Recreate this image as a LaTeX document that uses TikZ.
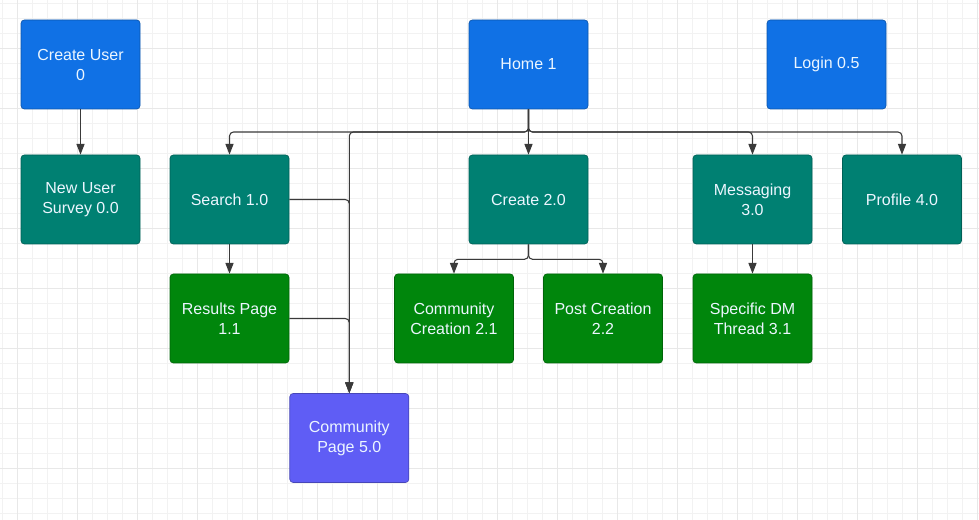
\documentclass[tikz,border=0pt]{standalone}
\usepackage{fontspec}
\setmainfont{Liberation Sans}
\usepackage{tikz}
\usetikzlibrary{positioning,arrows.meta,calc}
\usepackage{xcolor}

\definecolor{pageblue}{RGB}{16,113,229}
\definecolor{pageteal}{RGB}{0,128,114}
\definecolor{pagegreen}{RGB}{0,134,12}
\definecolor{pagepurple}{RGB}{95,93,245}
\definecolor{pagetext}{RGB}{236,246,255}
\definecolor{wire}{RGB}{58,58,58}

\begin{document}
\begin{tikzpicture}[
    x=0.75pt, y=-0.75pt,
    screen/.style={
        rectangle,
        rounded corners=2.5pt,
        draw=#1!75!black,
        line width=0.5pt,
        fill=#1,
        minimum width=89.25pt,
        minimum height=66.75pt,
        align=center,
        text=pagetext,
        font=\fontsize{12pt}{15pt}\selectfont
    },
    topbox/.style={screen=pageblue},
    sectionbox/.style={screen=pageteal},
    subbox/.style={screen=pagegreen},
    communitybox/.style={screen=pagepurple},
    link/.style={draw=wire, line width=0.8pt, rounded corners=3pt},
    gridminor/.style={draw=black!5, line width=0.6pt},
    gridmajor/.style={draw=black!9, line width=0.6pt},
    >={Triangle[length=8pt,width=6pt]}
]
\useasboundingbox (0,0) rectangle (979,520);
\fill[white] (0,0) rectangle (979,520);

% background grid
\foreach \x in {2.3,17.3,...,977.3}
    \draw[gridminor] (\x,0) -- (\x,520);
\foreach \y in {3.3,18.3,...,518.3}
    \draw[gridminor] (0,\y) -- (979,\y);
\foreach \x in {17.3,77.3,...,977.3}
    \draw[gridmajor] (\x,0) -- (\x,520);
\foreach \y in {48.3,108.3,...,468.3}
    \draw[gridmajor] (0,\y) -- (979,\y);

% top row
\node[topbox] (createuser) at (80.5,64.5) {Create User\\0};
\node[topbox] (home) at (528.5,64.5) {Home 1};
\node[topbox] (login) at (826.5,64.5) {Login 0.5};

% second row
\node[sectionbox] (survey) at (80.5,199.5) {New User\\Survey 0.0};
\node[sectionbox] (search) at (229.5,199.5) {Search 1.0};
\node[sectionbox] (create) at (528.5,199.5) {Create 2.0};
\node[sectionbox] (messaging) at (752.5,199.5) {Messaging\\3.0};
\node[sectionbox] (profile) at (902,199.5) {Profile 4.0};

% third row
\node[subbox] (results) at (229.5,318.5) {Results Page\\1.1};
\node[subbox] (commcreate) at (454,318.5) {Community\\Creation 2.1};
\node[subbox] (postcreate) at (603,318.5) {Post Creation\\2.2};
\node[subbox] (dmthread) at (752.5,318.5) {Specific DM\\Thread 3.1};

% community page
\node[communitybox] (commpage) at (349.3,438) {Community\\Page 5.0};

% buses
\coordinate (homebus) at (528.5,132);
\coordinate (createbus) at (528.5,259.3);

% connectors
\draw[link,->] (createuser) -- (survey);
\draw[link,->] (home) -- (create);
\draw[link,->] (home.south) -- (homebus) -| (search);
\draw[link,->] (home.south) -- (homebus) -| (messaging);
\draw[link,->] (home.south) -- (homebus) -| (profile);
\draw[link,->] (home.south) -- (homebus) -| (commpage);
\draw[link,->] (search) -- (results);
\draw[link,->] (search.east) -| (commpage);
\draw[link,->] (results.east) -| (commpage);
\draw[link,->] (create.south) -- (createbus) -| (commcreate);
\draw[link,->] (create.south) -- (createbus) -| (postcreate);
\draw[link,->] (messaging) -- (dmthread);
\end{tikzpicture}
\end{document}
